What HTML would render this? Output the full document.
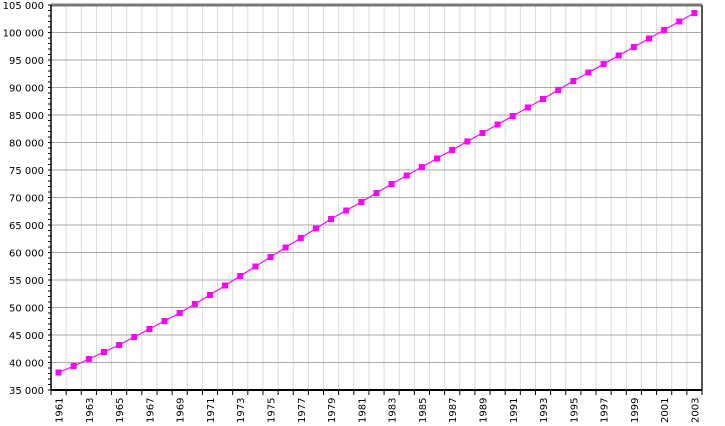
<!DOCTYPE html><html><head><style>body{margin:0;background:#fff}svg{display:block;font-family:Verdana,"DejaVu Sans",sans-serif;font-size:10px}</style></head><body>
<svg id="s" width="725" height="426" xmlns="http://www.w3.org/2000/svg"></svg>
<script>
var s=document.getElementById('s'),h='';
var L=51,R=702,T=5,B=390,w=(R-L)/43;
for(var i=1;i<43;i++){var x=L+i*w;h+='<line x1="'+x+'" y1="'+T+'" x2="'+x+'" y2="'+B+'" stroke="#dcdcdc"/>';}
for(var k=0;k<=14;k++){var y=B-k*27.5;if(k>0&&k<14)h+='<line x1="'+L+'" y1="'+y+'" x2="'+R+'" y2="'+y+'" stroke="#aaa"/>';
h+='<text x="44" y="'+(y+4)+'" text-anchor="end">'+(35+5*k)+' 000</text>';}
for(var m=0;m<=70;m++){var y=B-m*5.5;h+='<line x1="'+(L-3)+'" y1="'+y+'" x2="'+L+'" y2="'+y+'" stroke="#000"/>';}
for(var i=0;i<=43;i++){var x=L+i*w;h+='<line x1="'+x+'" y1="'+B+'" x2="'+x+'" y2="'+(B+5)+'" stroke="#000"/>';}
for(var i=0;i<43;i+=2){var x=L+(i+.5)*w+4;h+='<text transform="translate('+x+',423) rotate(-90)">'+(1961+i)+'</text>';}
var k={1961:372.5,1962:366,1963:359,1964:352,1965:345,1966:337,1967:329,1969:313,1971:295,1973:276,1975:257,1977:238,1979:219,1981:202,1983:184,1985:167,1987:150,1989:133,1991:116,1993:99,1995:81,1997:64,1999:47,2001:30,2003:13};
var ys=[];for(var yr=1961;yr<=2003;yr++){if(k[yr]!==undefined)ys.push(k[yr]);else ys.push((k[yr-1]+k[yr+1])/2);}
var p='';for(var i=0;i<43;i++){p+=(L+(i+.5)*w)+','+ys[i]+' ';}
h+='<polyline points="'+p+'" fill="none" stroke="#ff00ff" stroke-width="1.2"/>';
for(var i=0;i<43;i++){h+='<rect x="'+(L+(i+.5)*w-3)+'" y="'+(ys[i]-3)+'" width="6" height="6" fill="#ff00ff"/>';}
h+='<line x1="'+L+'" y1="'+T+'" x2="'+R+'" y2="'+T+'" stroke="#777" stroke-width="3"/>';
h+='<line x1="'+R+'" y1="'+T+'" x2="'+R+'" y2="'+B+'" stroke="#555" stroke-width="2"/>';
h+='<line x1="'+L+'" y1="'+T+'" x2="'+L+'" y2="'+B+'" stroke="#000" stroke-width="1.5"/>';
h+='<line x1="'+L+'" y1="'+B+'" x2="'+R+'" y2="'+B+'" stroke="#000" stroke-width="2"/>';
s.innerHTML=h;
</script></body></html>
